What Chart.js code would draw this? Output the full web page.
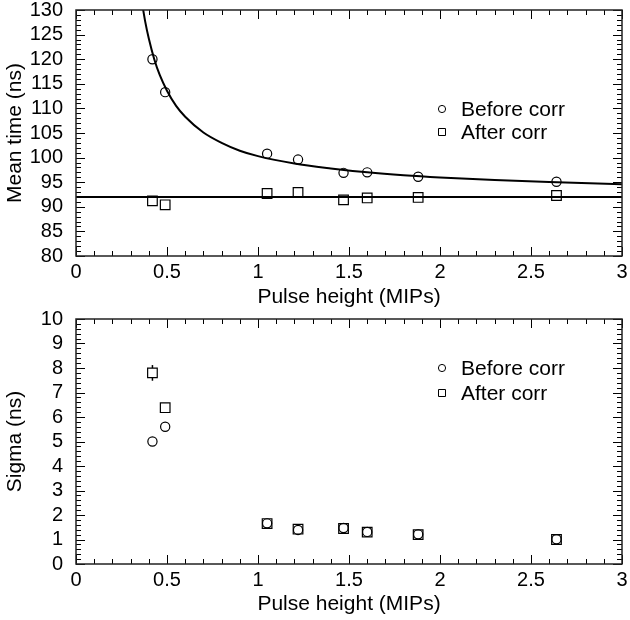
<!DOCTYPE html>
<html>
<head>
<meta charset="utf-8">
<title>Mean time and sigma vs pulse height</title>
<script src="https://cdn.jsdelivr.net/npm/chart.js@4"></script>
<style>
  body { margin: 0; background: #fff; }
  #wrap { position: relative; width: 630px; height: 620px; }
  canvas { position: absolute; left: 0; }
  #meanChart { top: 0; }
  #sigmaChart { top: 300px; }
</style>
</head>
<body>
<div id="wrap">
  <canvas id="meanChart" width="630" height="312"></canvas>
  <canvas id="sigmaChart" width="630" height="320"></canvas>
</div>
<script>
// === data ===
const pulseHeight = [0.42, 0.49, 1.05, 1.22, 1.47, 1.60, 1.88, 2.64];

// top panel: mean time (ns)
const meanBefore = [120.0, 113.3, 100.8, 99.6, 96.9, 97.0, 96.1, 95.1];
const meanAfter  = [91.2, 90.4, 92.7, 92.9, 91.4, 91.8, 91.9, 92.3];

// fitted curve through the "before" points
const fitX = [0.36, 0.38, 0.40, 0.43, 0.46, 0.50, 0.55, 0.60, 0.70, 0.80, 0.90, 1.00, 1.20, 1.40, 1.60, 1.80, 2.00, 2.30, 2.60, 3.00];
const fitY = [132.1, 127.7, 124.2, 120.0, 116.8, 113.6, 110.5, 108.3, 105.1, 103.0, 101.4, 100.3, 98.8, 97.8, 97.0, 96.4, 95.95, 95.45, 95.05, 94.6];

// flat line for the corrected points
const flatX = [0, 3];
const flatY = [92, 92];

// bottom panel: sigma (ns)
const sigmaBefore   = [5.0, 5.6, 1.66, 1.39, 1.47, 1.31, 1.21, 1.01];
const sigmaAfter    = [7.8, 6.38, 1.65, 1.42, 1.45, 1.30, 1.20, 1.00];
const sigmaAfterErr = [0.32, 0, 0, 0, 0, 0, 0, 0];

// tick labels
const xTicks = [0, 0.5, 1, 1.5, 2, 2.5, 3];
const meanTicks = [80, 85, 90, 95, 100, 105, 110, 115, 120, 125, 130];
const sigmaTicks = [0, 1, 2, 3, 4, 5, 6, 7, 8, 9, 10];
const legendLabels = ['Before corr', 'After corr'];

const FONT = '"Liberation Sans", Arial, Helvetica, sans-serif';

function toPoints(xs, ys) {
  return xs.map((x, i) => ({ x: x, y: ys[i] }));
}

function line(ctx, x1, y1, x2, y2) {
  ctx.beginPath();
  ctx.moveTo(x1, y1);
  ctx.lineTo(x2, y2);
  ctx.stroke();
}

function isMajor(v, step) {
  const r = v / step;
  return Math.abs(r - Math.round(r)) < 1e-6;
}

// frame + inward ticks on all four sides (minor and major)
const frameTicks = {
  id: 'frameTicks',
  afterDatasetsDraw(chart, args, opts) {
    const { ctx, chartArea: a, scales: { x, y } } = chart;
    ctx.save();
    ctx.strokeStyle = '#000';
    ctx.lineWidth = 1;
    const nx = Math.round((x.max - x.min) / opts.xMinor);
    for (let i = 0; i <= nx; i++) {
      const v = x.min + i * opts.xMinor;
      const px = Math.round(x.getPixelForValue(v)) + 0.5;
      const len = isMajor(v, opts.xMajor) ? 9 : 5;
      line(ctx, px, a.bottom, px, a.bottom - len);
      line(ctx, px, a.top, px, a.top + len);
    }
    const ny = Math.round((y.max - y.min) / opts.yMinor);
    for (let i = 0; i <= ny; i++) {
      const v = y.min + i * opts.yMinor;
      const py = Math.round(y.getPixelForValue(v)) + 0.5;
      const len = isMajor(v, opts.yMajor) ? 9 : 5;
      line(ctx, a.left, py, a.left + len, py);
      line(ctx, a.right, py, a.right - len, py);
    }
    ctx.strokeStyle = '#222';
    ctx.lineWidth = 1.5;
    ctx.strokeRect(a.left, a.top, a.right - a.left, a.bottom - a.top);
    ctx.restore();
  }
};

// vertical error bars, kept outside the square marker
const errorBars = {
  id: 'errorBars',
  afterDatasetsDraw(chart) {
    const { ctx, scales: { y } } = chart;
    chart.data.datasets.forEach((ds, di) => {
      if (!ds.errors) return;
      const meta = chart.getDatasetMeta(di);
      ctx.save();
      ctx.strokeStyle = '#000';
      ctx.lineWidth = 1.5;
      meta.data.forEach((pt, j) => {
        const err = ds.errors[j];
        if (!err) return;
        const half = ds.pointRadius * Math.SQRT1_2;
        const top = y.getPixelForValue(ds.data[j].y + err);
        const bot = y.getPixelForValue(ds.data[j].y - err);
        if (top < pt.y - half) line(ctx, pt.x, top, pt.x, pt.y - half);
        if (bot > pt.y + half) line(ctx, pt.x, pt.y + half, pt.x, bot);
      });
      ctx.restore();
    });
  }
};

// legend drawn inside the plot area
const innerLegend = {
  id: 'innerLegend',
  afterDraw(chart, args, opts) {
    const ctx = chart.ctx;
    ctx.save();
    ctx.strokeStyle = '#000';
    ctx.lineWidth = 1;
    ctx.fillStyle = '#000';
    ctx.font = '21px ' + FONT;
    ctx.textBaseline = 'middle';
    legendLabels.forEach((label, i) => {
      const cy = opts.y[i];
      ctx.beginPath();
      if (i === 0) {
        ctx.arc(opts.x, cy, 3.6, 0, Math.PI * 2);
      } else {
        ctx.rect(opts.x - 3.5, cy - 3.5, 7, 7);
      }
      ctx.stroke();
      ctx.fillText(label, opts.textX, cy + 1);
    });
    ctx.restore();
  }
};

function markerSet(label, ys, style, radius, extra) {
  return Object.assign({
    label: label,
    data: toPoints(pulseHeight, ys),
    showLine: false,
    pointStyle: style,
    pointRadius: radius,
    pointBorderWidth: 1.2,
    pointBorderColor: '#000',
    pointBackgroundColor: 'rgba(0,0,0,0)',
    order: 1
  }, extra || {});
}

function curveSet(xs, ys) {
  return {
    data: toPoints(xs, ys),
    showLine: true,
    borderColor: '#000',
    borderWidth: 2,
    pointRadius: 0,
    cubicInterpolationMode: 'monotone',
    order: 2
  };
}

function makeOptions(cfg) {
  return {
    responsive: false,
    animation: false,
    events: [],
    layout: { padding: { top: cfg.padTop, right: 5.5, left: 0, bottom: 0 } },
    plugins: {
      legend: { display: false },
      tooltip: { enabled: false },
      frameTicks: { xMinor: 0.1, xMajor: 0.5, yMinor: cfg.yMinor, yMajor: cfg.yMajor },
      innerLegend: { x: 442, textX: 461, y: cfg.legendY }
    },
    scales: {
      x: {
        type: 'linear', min: 0, max: 3,
        grid: { display: false, drawTicks: false },
        border: { display: false },
        afterBuildTicks: s => { s.ticks = xTicks.map(v => ({ value: v })); },
        afterFit: s => { s.height = 56; s.paddingLeft = 0; s.paddingRight = 0; },
        ticks: {
          color: '#000', padding: 4, maxRotation: 0, autoSkip: false,
          font: { family: FONT, size: 20 },
          callback: v => String(v)
        },
        title: {
          display: true, text: 'Pulse height (MIPs)', color: '#000',
          font: { family: FONT, size: 21, lineHeight: 1 },
          padding: { top: 0, bottom: cfg.xTitlePad }
        }
      },
      y: {
        type: 'linear', min: cfg.yTicks[0], max: cfg.yTicks[cfg.yTicks.length - 1],
        grid: { display: false, drawTicks: false },
        border: { display: false },
        afterBuildTicks: s => { s.ticks = cfg.yTicks.map(v => ({ value: v })); },
        afterFit: s => { s.width = 76; s.paddingTop = 0; s.paddingBottom = 0; },
        ticks: {
          color: '#000', padding: 13, autoSkip: false,
          font: { family: FONT, size: 20 },
          callback: v => String(v)
        },
        title: {
          display: true, text: cfg.yTitle, color: '#000',
          font: { family: FONT, size: 21, lineHeight: 1 },
          padding: { top: 5, bottom: 0 }
        }
      }
    }
  };
}

const plugins = [frameTicks, errorBars, innerLegend];

// === top: mean time ===
new Chart(document.getElementById('meanChart'), {
  type: 'scatter',
  data: {
    datasets: [
      curveSet(fitX, fitY),
      curveSet(flatX, flatY),
      markerSet(legendLabels[0], meanBefore, 'circle', 4.6),
      markerSet(legendLabels[1], meanAfter, 'rect', 6.8)
    ]
  },
  options: makeOptions({
    padTop: 10, yTicks: meanTicks, yMinor: 1, yMajor: 5,
    yTitle: 'Mean time (ns)', xTitlePad: 4, legendY: [109, 132]
  }),
  plugins: plugins
});

// === bottom: sigma ===
new Chart(document.getElementById('sigmaChart'), {
  type: 'scatter',
  data: {
    datasets: [
      markerSet(legendLabels[0], sigmaBefore, 'circle', 4.6),
      markerSet(legendLabels[1], sigmaAfter, 'rect', 6.8, { errors: sigmaAfterErr })
    ]
  },
  options: makeOptions({
    padTop: 19, yTicks: sigmaTicks, yMinor: 0.2, yMajor: 1,
    yTitle: 'Sigma (ns)', xTitlePad: 5, legendY: [68, 93]
  }),
  plugins: plugins
});
</script>
</body>
</html>
